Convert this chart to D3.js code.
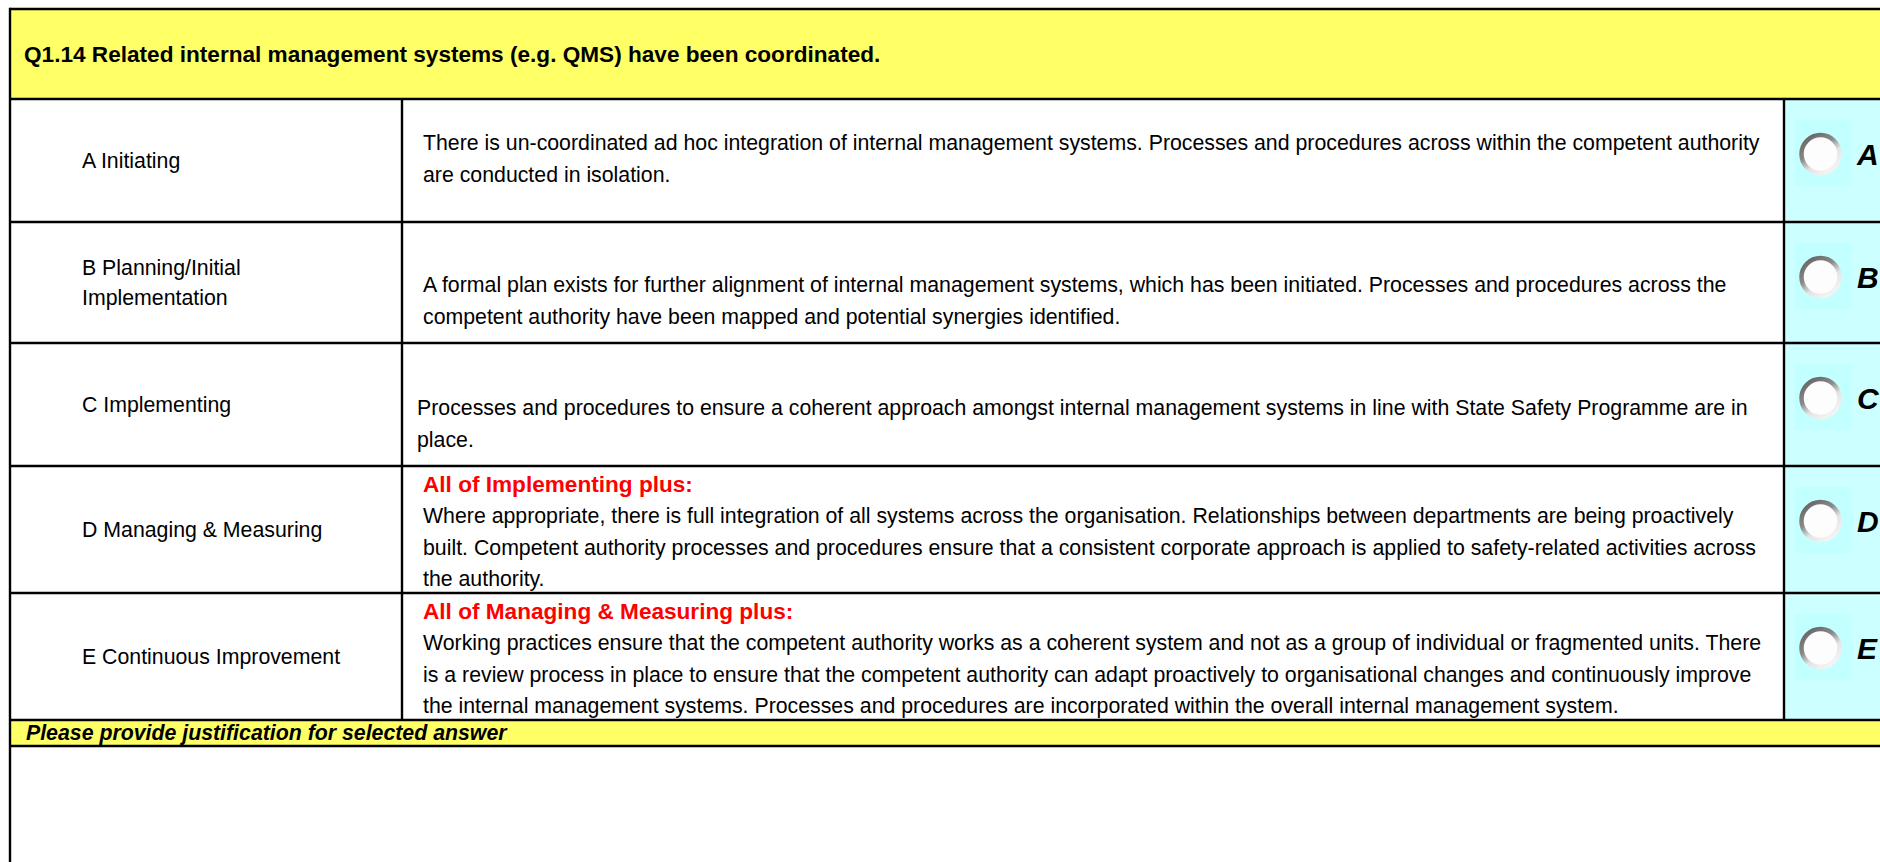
<!DOCTYPE html>
<html>
<head>
<meta charset="utf-8">
<script src="https://cdn.jsdelivr.net/npm/d3@7/dist/d3.min.js"></script>
<style>
  html, body { margin: 0; padding: 0; background: #ffffff; }
  svg { display: block; }
  text { font-family: "Liberation Sans", Arial, Helvetica, sans-serif; }
</style>
</head>
<body>
<svg id="chart" width="1880" height="862"></svg>
<script>
// ---------------- DATA ----------------
const title = "Q1.14 Related internal management systems (e.g. QMS) have been coordinated.";

const levelLabels = [
  ["A Initiating"],
  ["B Planning/Initial", "Implementation"],
  ["C Implementing"],
  ["D Managing & Measuring"],
  ["E Continuous Improvement"]
];

const leadIns = [
  null,
  null,
  null,
  "All of Implementing plus:",
  "All of Managing & Measuring plus:"
];

const descriptions = [
  ["There is un-coordinated ad hoc integration of internal management systems. Processes and procedures across within the competent authority",
   "are conducted in isolation."],
  ["A formal plan exists for further alignment of internal management systems, which has been initiated. Processes and procedures across the",
   "competent authority have been mapped and potential synergies identified."],
  ["Processes and procedures to ensure a coherent approach amongst internal management systems in line with State Safety Programme are in",
   "place."],
  ["Where appropriate, there is full integration of all systems across the organisation. Relationships between departments are being proactively",
   "built. Competent authority processes and procedures ensure that a consistent corporate approach is applied to safety-related activities across",
   "the authority."],
  ["Working practices ensure that the competent authority works as a coherent system and not as a group of individual or fragmented units. There",
   "is a review process in place to ensure that the competent authority can adapt proactively to organisational changes and continuously improve",
   "the internal management systems. Processes and procedures are incorporated within the overall internal management system."]
];

const choiceLetters = ["A", "B", "C", "D", "E"];

const footerPrompt = "Please provide justification for selected answer";

// ---------------- LAYOUT / STYLE ----------------
const W = 1880, H = 862;
const leftX = 10, topY = 9;
const headerBottom = 99;
const rowEdges = [99, 222, 343, 466, 593, 720];   // table grid lines
const promptBottom = 746;
const col1 = 402, col2 = 1784;
const lineH = 31.6;
const valign = ["middle", "bottom", "bottom", "top", "top"];
const descX = [423, 423, 417, 423, 423];

const YELLOW = "#FFFF66", CYAN = "#CCFFFF", BOXCYAN = "#C2FFFF", RED = "#FF0000";
const FS = 21.3, FSB = 22.6;

const svg = d3.select("#chart");
svg.append("rect").attr("width", W).attr("height", H).attr("fill", "#fff");

const rowIdx = d3.range(levelLabels.length);
const rowTop = i => rowEdges[i];
const rowBot = i => rowEdges[i + 1];

// gradient for radio rings
const defs = svg.append("defs");
const g = defs.append("linearGradient").attr("id", "ring")
  .attr("x1", "0%").attr("y1", "0%").attr("x2", "70%").attr("y2", "100%");
g.append("stop").attr("offset", "0%").attr("stop-color", "#5e5e5e");
g.append("stop").attr("offset", "45%").attr("stop-color", "#8a8a8a");
g.append("stop").attr("offset", "70%").attr("stop-color", "#e4e4e4");
g.append("stop").attr("offset", "100%").attr("stop-color", "#f4f4f4");

// ---- fills ----
svg.append("rect").attr("x", leftX).attr("y", topY).attr("width", W - leftX).attr("height", headerBottom - topY).attr("fill", YELLOW);
svg.append("rect").attr("x", col2).attr("y", rowEdges[0]).attr("width", W - col2).attr("height", rowEdges[5] - rowEdges[0]).attr("fill", CYAN);
svg.append("rect").attr("x", leftX).attr("y", rowEdges[5]).attr("width", W - leftX).attr("height", promptBottom - rowEdges[5]).attr("fill", YELLOW);

// ---- grid lines ----
const grid = svg.append("g").attr("stroke", "#000").attr("stroke-width", 2.4);
const hLines = [topY, ...rowEdges, promptBottom];
grid.selectAll("line.h").data(hLines).join("line").attr("class", "h")
  .attr("x1", leftX).attr("x2", W).attr("y1", d => d).attr("y2", d => d);
grid.append("line").attr("x1", leftX).attr("x2", leftX).attr("y1", topY - 1.2).attr("y2", H);
grid.selectAll("line.v").data([col1, col2]).join("line").attr("class", "v")
  .attr("x1", d => d).attr("x2", d => d).attr("y1", rowEdges[0]).attr("y2", rowEdges[5]);

// ---- header ----
svg.append("text").attr("x", 24).attr("y", 62).attr("font-size", FSB).attr("font-weight", "bold")
  .attr("fill", "#000").text(title);

// ---- level labels (centered vertically) ----
const labelG = svg.append("g");
rowIdx.forEach(i => {
  const lines = levelLabels[i];
  const c = (rowTop(i) + rowBot(i)) / 2;
  const first = c + 7.5 - (lines.length - 1) * 15;
  lines.forEach((ln, k) => {
    labelG.append("text").attr("x", 82).attr("y", first + k * 30)
      .attr("font-size", FS).attr("fill", "#000").text(ln);
  });
});

// ---- descriptions ----
const descG = svg.append("g");
rowIdx.forEach(i => {
  const lines = [];
  if (leadIns[i]) lines.push({ t: leadIns[i], red: true });
  descriptions[i].forEach(t => lines.push({ t, red: false }));
  const n = lines.length;
  let first;
  if (valign[i] === "top") first = rowTop(i) + 25.5;
  else if (valign[i] === "bottom") first = rowBot(i) - 19 - (n - 1) * lineH;
  else first = (rowTop(i) + rowBot(i)) / 2 + 7.5 - (n - 1) * lineH / 2 - 2;
  lines.forEach((ln, k) => {
    descG.append("text").attr("x", descX[i]).attr("y", first + k * lineH)
      .attr("font-size", ln.red ? FSB : FS)
      .attr("font-weight", ln.red ? "bold" : "normal")
      .attr("fill", ln.red ? RED : "#000").text(ln.t);
  });
});

// ---- radio choices ----
const radioG = svg.append("g");
rowIdx.forEach(i => {
  const bt = rowTop(i) + 21;
  radioG.append("rect").attr("x", 1795).attr("y", bt).attr("width", 57).attr("height", 66).attr("fill", BOXCYAN);
  const cx = 1820.5, cy = bt + 34;
  radioG.append("circle").attr("cx", cx).attr("cy", cy).attr("r", 19)
    .attr("fill", "#fdfdfd").attr("stroke", "url(#ring)").attr("stroke-width", 4.5);
  radioG.append("text").attr("x", 1857).attr("y", rowTop(i) + 66)
    .attr("font-size", 30).attr("font-weight", "bold").attr("font-style", "italic")
    .attr("fill", "#000").text(choiceLetters[i]);
});

// ---- justification prompt ----
svg.append("text").attr("x", 26).attr("y", 740).attr("font-size", FS)
  .attr("font-weight", "bold").attr("font-style", "italic").attr("fill", "#000").text(footerPrompt);
</script>
</body>
</html>
